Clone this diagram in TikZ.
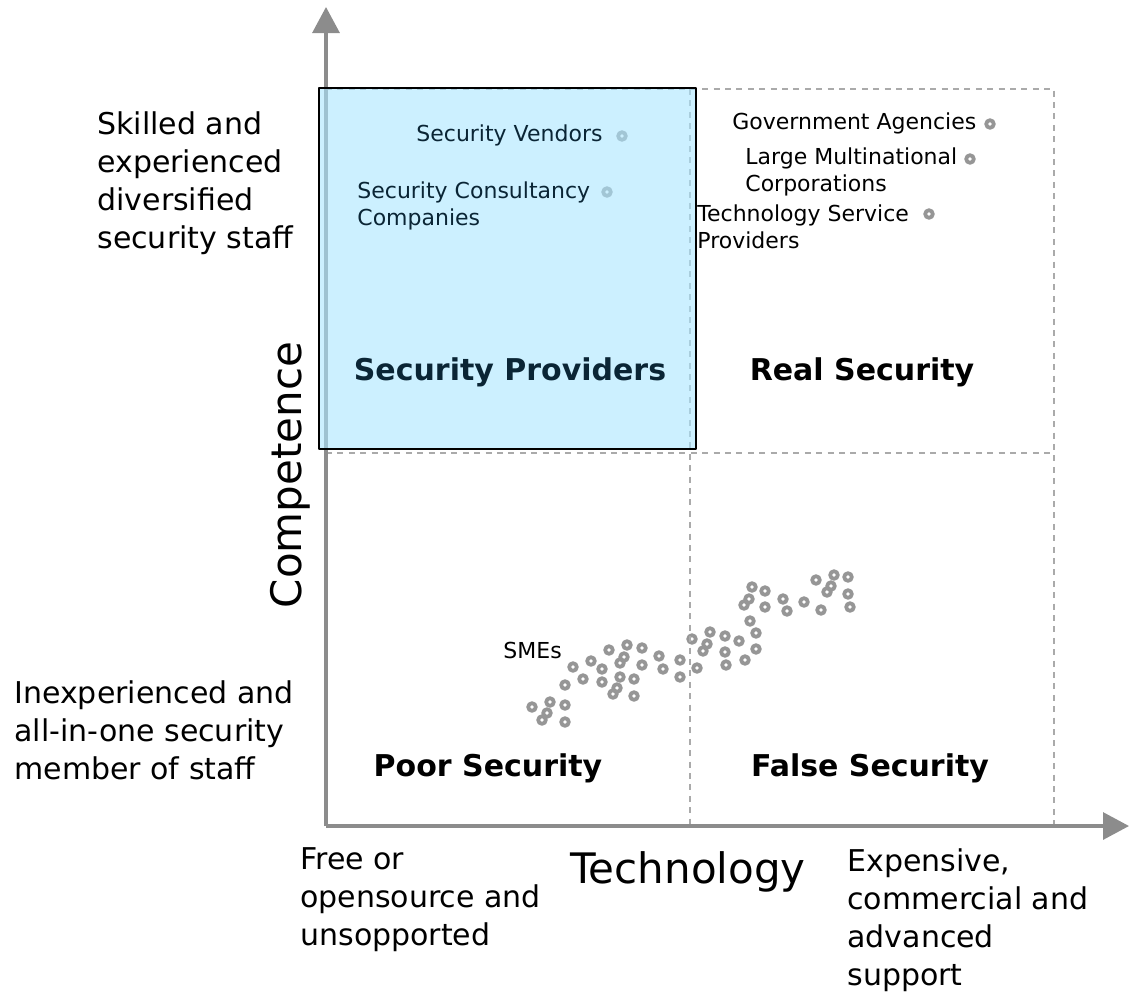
\documentclass[tikz,border=0pt]{standalone}
\usepackage{fontspec}
\setmainfont{DejaVu Sans}
\usetikzlibrary{arrows.meta}

\definecolor{axisgray}{RGB}{140,140,140}
\definecolor{gridgray}{RGB}{170,170,170}
\definecolor{dotgray}{RGB}{150,150,150}
\definecolor{provfill}{RGB}{170,230,255}
\definecolor{provtext}{RGB}{10,37,53}

\tikzset{
  axis/.style={line width=1.6pt, draw=axisgray, -{Triangle[width=13.5pt,length=13pt]}},
  quadline/.style={line width=1.3pt, draw=gridgray, dash pattern=on 3pt off 2.7pt},
  ring/.style={line width=1.9pt, draw=dotgray},
  sidetext/.style={inner sep=0pt, align=left, anchor=west, font=\fontsize{15}{19}\selectfont},
  axistitle/.style={inner sep=0pt, font=\fontsize{21}{25}\selectfont},
  quadtitle/.style={inner sep=0pt, font=\fontsize{15}{18}\selectfont\bfseries},
  actor/.style={inner sep=0pt, align=left, anchor=west, font=\fontsize{11}{13.5}\selectfont}
}

\begin{document}
\begin{tikzpicture}[x=0.5pt, y=-0.5pt, line join=round]
  \useasboundingbox (0,0) rectangle (1130,993);

  % Origin and axis tips
  \coordinate (O) at (326,826);
  \coordinate (Ytip) at (326,7);
  \coordinate (Xtip) at (1129,826);

  % Quadrant corners
  \coordinate (TL) at (326,89);
  \coordinate (TM) at (690,89);
  \coordinate (TR) at (1054,89);
  \coordinate (ML) at (326,453);
  \coordinate (MR) at (1054,453);
  \coordinate (BM) at (690,826);
  \coordinate (BR) at (1054,826);

  % SMEs cloud
  \foreach \px/\py in {532/707, 550/702, 547/713, 542/720, 565/705, 565/722,
      565/685, 573/667, 583/679, 591/661, 602/669, 602/682, 609/650, 620/663,
      624/657, 620/677, 617/688, 613/694, 627/645, 642/648, 642/665, 634/679,
      634/696, 659/656, 663/669, 680/660, 680/677, 692/639, 697/668, 703/651,
      707/644, 710/632, 725/636, 725/652, 726/665, 739/641, 745/660, 756/633,
      756/649, 750/621, 744/605, 749/599, 752/587, 765/591, 765/607, 783/599,
      787/611, 804/602, 816/580, 821/610, 827/592, 831/586, 834/575, 848/577,
      848/594, 850/607}
    \draw[ring] (\px,\py) circle (1.9pt);

  % Dots of the named organisations
  \foreach \px/\py in {622/136, 607/192, 990/124, 970/159, 929/214}
    \draw[ring] (\px,\py) circle (1.9pt);

  % Quadrant grid
  \draw[quadline] (TL) -- (TR) -- (BR);
  \draw[quadline] (ML) -- (MR);
  \draw[quadline] (TM) -- (BM);

  % Axes
  \draw[axis] (O) -- (Ytip);
  \draw[axis] (O) -- (Xtip);

  % Highlighted quadrant
  \fill[provfill, fill opacity=0.6] (319,88) rectangle (696,449);
  \draw[line width=1pt, black] (319,88) rectangle (696,449);

  % Axis titles
  \node[axistitle, rotate=90] (competence) at (290,475) {Competence};
  \node[axistitle] (technology) at (688,872) {Technology};

  % Scale ends
  \node[sidetext] (skilled) at (97,183) {Skilled and\\experienced\\diversified\\security staff};
  \node[sidetext] (inexp) at (14,730) {Inexperienced and\\all-in-one security\\member of staff};
  \node[sidetext] (free) at (300,900) {Free or\\opensource and\\unsopported};
  \node[sidetext] (expensive) at (847,920) {Expensive,\\commercial and\\advanced\\support};

  % Quadrant titles
  \node[quadtitle, text=provtext] (providers) at (510,372) {Security Providers};
  \node[quadtitle] (real) at (862,372) {Real Security};
  \node[quadtitle] (poor) at (488,768) {Poor Security};
  \node[quadtitle] (false) at (870,768) {False Security};

  % Organisations
  \node[actor, text=provtext] (vendors) at (416,135) {Security Vendors};
  \node[actor, text=provtext] (consult) at (357,206) {Security Consultancy\\Companies};
  \node[actor] (gov) at (732,123) {Government Agencies};
  \node[actor] (multi) at (745,172) {Large Multinational\\Corporations};
  \node[actor] (techserv) at (697,227) {Technology Service\\Providers};
  \node[actor] (smes) at (503,650) {SMEs};
\end{tikzpicture}
\end{document}
